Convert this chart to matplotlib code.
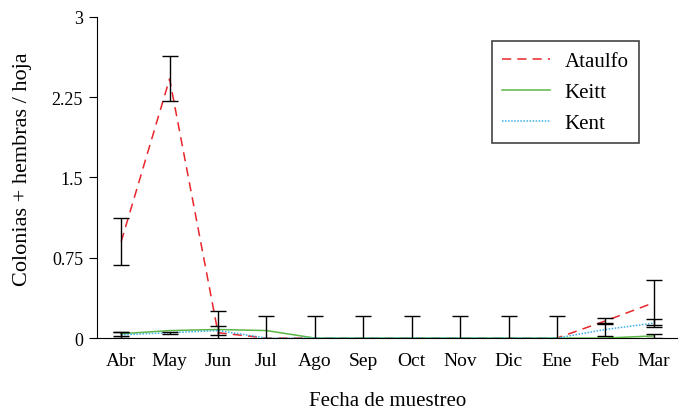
import matplotlib
matplotlib.use("Agg")
import matplotlib.pyplot as plt
import numpy as np

plt.rcParams['font.family'] = ['Liberation Serif', 'DejaVu Serif']

months = ['Abr', 'May', 'Jun', 'Jul', 'Ago', 'Sep', 'Oct', 'Nov', 'Dic', 'Ene', 'Feb', 'Mar']

ataulfo = [0.90, 2.42, 0.05, 0.0, 0.0, 0.0, 0.0, 0.0, 0.0, 0.0, 0.16, 0.33]
ataulfo_err = [0.22, 0.21, 0.20, 0.0, 0.21, 0.21, 0.21, 0.21, 0.21, 0.21, 0.03, 0.21]

keitt = [0.04, 0.07, 0.08, 0.07, 0.0, 0.0, 0.0, 0.0, 0.0, 0.0, 0.0, 0.02]
keitt_err = [0.02, 0.0, 0.0, 0.14, 0.0, 0.0, 0.0, 0.0, 0.0, 0.0, 0.0, 0.02]

kent = [0.03, 0.05, 0.07, 0.0, 0.0, 0.0, 0.0, 0.0, 0.0, 0.0, 0.08, 0.14]
kent_err = [0.03, 0.01, 0.04, 0.0, 0.0, 0.0, 0.0, 0.0, 0.0, 0.0, 0.06, 0.04]

yticks = [0, 0.75, 1.5, 2.25, 3]
ytick_labels = ['0', '0.75', '1.5', '2.25', '3']

x = np.arange(len(months))

fig = plt.figure(figsize=(6.78, 4.14), dpi=100)
ax = fig.add_axes([0.143, 0.181, 0.857, 0.776])

series = [
    (ataulfo, ataulfo_err, 'Ataulfo', '#e8262b', (0, (6, 4)), 1.1),
    (keitt, keitt_err, 'Keitt', '#5ab645', '-', 1.1),
    (kent, kent_err, 'Kent', '#3cb0e6', (0, (1, 1)), 1.1),
]

for vals, errs, name, color, ls, lw in series:
    ax.plot(x, vals, color=color, linestyle=ls, linewidth=lw, label=name, zorder=3)
    vals = np.array(vals)
    errs = np.array(errs)
    has = errs > 0
    ax.errorbar(x[has], vals[has], yerr=errs[has], fmt='none', ecolor='black',
                elinewidth=1.0, capsize=5.5, capthick=1.0, zorder=4)

ax.set_xlim(-0.5, 11.5)
ax.set_ylim(0, 3)
ax.set_xticks(x)
ax.set_xticklabels(months, fontsize=14)
ax.set_yticks(yticks)
ax.set_yticklabels(ytick_labels, fontsize=13)
ax.tick_params(axis='x', length=0, pad=10)
ax.tick_params(axis='y', length=6, direction='out', pad=4)

ax.spines['top'].set_visible(False)
ax.spines['right'].set_visible(False)

ax.set_xlabel('Fecha de muestreo', fontsize=15, labelpad=16)
ax.set_ylabel('Colonias + hembras / hoja', fontsize=16, labelpad=14)
ax.yaxis.label.set_y(0.53)

leg = ax.legend(loc='upper right', bbox_to_anchor=(0.933, 0.925), fontsize=15,
                handlelength=2.3, labelspacing=0.55, borderpad=0.5,
                handletextpad=0.7, borderaxespad=0, fancybox=False, framealpha=1)
leg.get_frame().set_edgecolor('#444444')
leg.get_frame().set_linewidth(1.2)

fig.savefig('out.png', dpi=100)
